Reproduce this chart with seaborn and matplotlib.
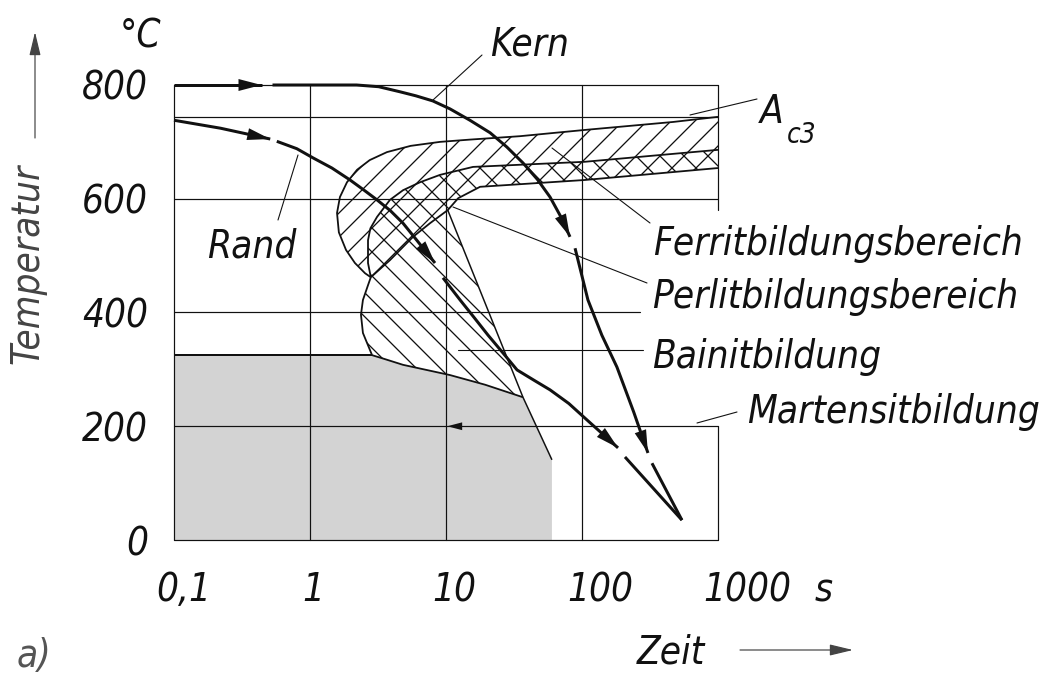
import matplotlib
matplotlib.use('Agg')
import matplotlib.pyplot as plt
import seaborn as sns
from matplotlib import font_manager
from matplotlib.patches import FancyArrowPatch
from matplotlib.lines import Line2D
from matplotlib.ticker import NullLocator

# ---------------- data (time in s, temperature in degC) ----------------
xtick_values = [0.1, 1, 10, 100, 1000]
xtick_labels = ['0,1', '1', '10', '100', '1000']
ytick_values = [0, 200, 400, 600, 800]
ytick_labels = ['0', '200', '400', '600', '800']

# cooling curve "Kern" (core), drawn in four pieces
kern_t_1 = [0.1, 0.44]
kern_T_1 = [800, 800]
kern_t_2 = [0.53, 1.2, 2.2, 3.2, 4.6, 6.0, 8.0, 10.7, 15.0, 21.1, 28.0, 36.8, 47.0, 58.2, 70.0, 81.6]
kern_T_2 = [800, 800, 800, 797, 788, 781, 772, 758, 738, 716, 691, 663, 634, 603, 568, 533]
kern_t_3 = [88.9, 110.6, 140.0, 180.7, 240.0, 305.5]
kern_T_3 = [513, 422, 360, 304, 225, 153]
kern_t_4 = [327, 543]
kern_T_4 = [135, 35]

# cooling curve "Rand" (surface)
rand_t_1 = [0.1, 0.22, 0.51]
rand_T_1 = [738, 724, 705]
rand_t_2 = [0.57, 0.8, 1.05, 1.45, 1.97, 2.5, 3.11, 3.9, 4.83, 6.1, 8.3]
rand_T_2 = [701, 688, 672, 654, 633, 615, 598, 579, 557, 527, 487]
rand_t_3 = [9.5, 12.7, 16.0, 20.4, 26.0, 33.3, 45.0, 58.2, 80.0, 108.9, 184]
rand_T_3 = [461, 422, 392, 360, 330, 299, 280, 264, 240, 211, 162]
rand_t_4 = [207, 543]
rand_T_4 = [146, 35]

ac3_T = 744
ms_T = 325

# ferrite start curve: right end -> nose -> junction
ferrit_start_t = [1000, 467, 105, 35, 15.0, 9.04, 5.5, 3.68, 2.75, 2.22, 1.87, 1.66, 1.58, 1.63, 1.84, 2.14, 2.54, 2.8]
ferrit_start_T = [744, 735, 721, 710, 704, 700, 693, 682, 668, 651, 629, 603, 575, 541, 510, 487, 469, 462]
# pearlite start curve: right end -> junction
perlit_start_t = [1000, 105, 15.8, 9.04, 6.44, 4.83, 3.87, 3.11, 2.78, 2.67, 2.67, 2.8]
perlit_start_T = [686, 665, 656, 642, 629, 615, 598, 568, 548, 527, 487, 462]
# pearlite end curve: junction -> bend -> right end
perlit_end_t = [2.8, 3.87, 5.72, 7.63, 10.3, 12.3, 17.8, 105, 1000]
perlit_end_T = [462, 492, 533, 557, 580, 601, 621, 633, 654]
# bainite start curve: junction -> bulge -> lower edge
bainit_start_t = [2.8, 2.67, 2.45, 2.37, 2.45, 2.86, 3.56, 4.83, 10.7, 19.4, 36.8]
bainit_start_T = [462, 448, 422, 396, 364, 325, 318, 308, 290, 273, 251]
# bainite end line
bainit_end_t = [10.3, 36.8, 60.1]
bainit_end_T = [580, 251, 141]

# small marker on the 200 degC line at 10 s
mark_t = [13.8, 10.2]
mark_T = [200, 200]

# grid
grid_T = [0, 200, 400, 600, 800]
grid_T_end = [1000, 1000, 267, 1000, 1000]
grid_t = [0.1, 1, 10, 100]
border_T_upper = [580, 800]
border_T_lower = [0, 200]

# ---------------- style ----------------
sns.set_style('white')
entries = font_manager.fontManager.ttflist


def has_font(name, stretch):
    for f in entries:
        if f.name == name and str(f.stretch) == stretch:
            return True
    return False


candidates = [('Liberation Sans Narrow', 'normal'), ('Liberation Sans Narrow', 'condensed'),
              ('DejaVu Sans', 'condensed'), ('Noto Sans', 'condensed'),
              ('Open Sans', 'condensed'), ('Roboto', 'condensed'),
              ('Liberation Sans', 'normal')]
FAMILY, STRETCH = 'Liberation Sans', 'normal'
for name, st in candidates:
    if has_font(name, st):
        FAMILY, STRETCH = name, st
        break
plt.rcParams['font.family'] = [FAMILY, 'DejaVu Sans']
plt.rcParams['font.stretch'] = STRETCH
plt.rcParams['font.style'] = 'italic'
plt.rcParams['hatch.linewidth'] = 1.3

INK = '#111111'
plt.rcParams['hatch.color'] = INK
DPI = 72
W, H = 1060, 677
fig = plt.figure(figsize=(W / DPI, H / DPI), dpi=DPI)
fig.patch.set_facecolor('white')

# font size chosen so that the longest label has the reference width
probe = fig.text(0, 0, 'Ferritbildungsbereich', fontsize=40)
fig.canvas.draw()
wprobe = probe.get_window_extent().width
probe.remove()
FS = min(48.0, 40.0 * 370.0 / wprobe)

ax = fig.add_axes([174 / W, 1 - 540 / H, (718 - 174) / W, (540 - 85) / H])
ax.set_xscale('log')
ax.set_xlim(0.1, 1000)
ax.set_ylim(0, 800)
for s in ax.spines.values():
    s.set_visible(False)
ax.set_facecolor('none')
ax.xaxis.set_minor_locator(NullLocator())


def fxy(x, y):
    return x / W, 1 - y / H


# martensite grey area
mart_t = [0.1, 0.1] + bainit_start_t[5:] + bainit_end_t[2:] + [bainit_end_t[-1]]
mart_T = [0, ms_T] + bainit_start_T[5:] + bainit_end_T[2:] + [0]
ax.fill(mart_t, mart_T, facecolor='#d3d3d3', edgecolor='none', zorder=1)

# hatched transformation regions
ferr_t = ferrit_start_t + perlit_start_t[::-1]
ferr_T = ferrit_start_T + perlit_start_T[::-1]
ax.fill(ferr_t, ferr_T, facecolor='none', edgecolor=INK, hatch='/', linewidth=0, zorder=2)
perl_t = perlit_start_t + perlit_end_t
perl_T = perlit_start_T + perlit_end_T
ax.fill(perl_t, perl_T, facecolor='none', edgecolor=INK, hatch='x', linewidth=0, zorder=2)
bain_t = bainit_start_t + bainit_end_t[:2][::-1] + perlit_end_t[:5][::-1]
bain_T = bainit_start_T + bainit_end_T[:2][::-1] + perlit_end_T[:5][::-1]
ax.fill(bain_t, bain_T, facecolor='none', edgecolor=INK, hatch='\\', linewidth=0, zorder=2)

# grid / frame
GL = 1.2
for T, tend in zip(grid_T, grid_T_end):
    ax.plot([0.1, tend], [T, T], color=INK, lw=GL, zorder=3, clip_on=False)
for t in grid_t:
    ax.plot([t, t], [0, 800], color=INK, lw=GL, zorder=3, clip_on=False)
ax.plot([1000, 1000], border_T_upper, color=INK, lw=GL, zorder=3, clip_on=False)
ax.plot([1000, 1000], border_T_lower, color=INK, lw=GL, zorder=3, clip_on=False)
ax.plot([0.1, 1000], [ac3_T, ac3_T], color=INK, lw=GL, zorder=3, clip_on=False)


def curve(t, T, lw, z=4):
    sns.lineplot(x=t, y=T, ax=ax, sort=False, estimator=None, color=INK,
                 lw=lw, zorder=z, clip_on=False, legend=False,
                 solid_joinstyle='round', solid_capstyle='butt')


def head(t, T, scale=46):
    ax.annotate('', xy=(t[-1], T[-1]), xytext=(t[-2], T[-2]),
                arrowprops=dict(arrowstyle='-|>,head_length=0.5,head_width=0.13',
                                mutation_scale=scale, lw=0, color=INK,
                                shrinkA=0, shrinkB=0),
                annotation_clip=False, zorder=6)


# boundaries
curve(ferrit_start_t, ferrit_start_T, 1.8)
curve(perlit_start_t, perlit_start_T, 1.8)
curve(perlit_end_t, perlit_end_T, 1.8)
curve(bainit_start_t, bainit_start_T, 1.8)
curve(bainit_end_t, bainit_end_T, 1.5)
curve([0.1, bainit_start_t[5]], [ms_T, ms_T], 2.0)

# cooling curves
for t, T, arrow in [(kern_t_1, kern_T_1, True), (kern_t_2, kern_T_2, True),
                    (kern_t_3, kern_T_3, True), (kern_t_4, kern_T_4, False),
                    (rand_t_1, rand_T_1, True), (rand_t_2, rand_T_2, True),
                    (rand_t_3, rand_T_3, True), (rand_t_4, rand_T_4, False)]:
    curve(t, T, 3.0, z=5)
    if arrow:
        head(t, T)
head(mark_t, mark_T, scale=30)

# ticks
ax.set_xticks(xtick_values)
ax.set_xticklabels([''] * len(xtick_values))
ax.set_yticks(ytick_values)
ax.set_yticklabels(ytick_labels, fontsize=FS, fontstyle='italic', color=INK)
ax.tick_params(axis='x', direction='out', length=8, width=1.2, color=INK)
ax.tick_params(axis='y', direction='out', length=12, width=1.2, color=INK, pad=14)
ax.set_xlabel('')
ax.set_ylabel('')

fig.canvas.draw()
xlabel_dx = [10, 3, 8, 18, 29]
for val, lab, dx in zip(xtick_values, xtick_labels, xlabel_dx):
    xd = ax.transData.transform((val, 1))[0]
    fig.text((xd + dx) / W, 1 - 601 / H, lab, fontsize=FS, color=INK,
             ha='center', va='baseline')


def label(x, y, s, size=None, color=INK, **kw):
    fig.text(*fxy(x, y), s, fontsize=size or FS, color=color, va='baseline', ha='left', **kw)


def leader(x1, y1, x2, y2, lw=1.1):
    fig.add_artist(Line2D([x1 / W, x2 / W], [1 - y1 / H, 1 - y2 / H],
                          transform=fig.transFigure, color=INK, lw=lw))


label(120, 47, '°C')
label(490, 55, 'Kern')
label(207, 258, 'Rand')
label(760, 123, 'A')
label(787, 143, 'c3', size=FS * 0.72)
label(653, 255, 'Ferritbildungsbereich')
label(652, 308, 'Perlitbildungsbereich')
label(652, 368, 'Bainitbildung')
label(747, 423, 'Martensitbildung')
label(815, 601, 's')
label(637, 663, 'Zeit')
label(17, 667, 'a)', color='#555555')
fig.text(*fxy(28, 264), 'Temperatur', fontsize=FS, color='#444444', rotation=90,
         ha='center', va='center')

leader(433, 100, 482, 55)
leader(278, 220, 298, 155)
leader(690, 115, 757, 99)
leader(552, 148, 650, 223)
leader(453, 207, 647, 283)
leader(458, 350, 643, 350)
leader(697, 423, 737, 412)

for (x1, y1, x2, y2) in [(35, 140, 35, 30), (738, 650, 855, 650)]:
    fig.add_artist(FancyArrowPatch(fxy(x1, y1), fxy(x2, y2), transform=fig.transFigure,
                                   arrowstyle='-|>,head_length=0.5,head_width=0.12',
                                   mutation_scale=40, lw=1.2, color='#444444'))

fig.savefig('out.png', dpi=DPI, facecolor='white')
